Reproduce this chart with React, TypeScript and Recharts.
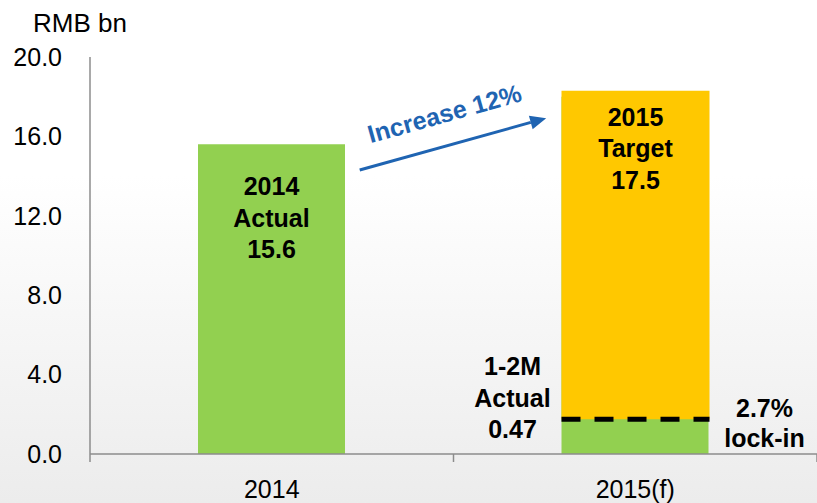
import React from 'react';
import { BarChart, Bar, XAxis, YAxis, LabelList, ReferenceLine, Label } from 'recharts';

const categories = ['2014', '2015(f)'];
const actualValues = [15.6, 18.0];
const targetRanges: ([number, number] | null)[] = [null, [1.75, 18.3]];
const yTicks = [0, 4, 8, 12, 16, 20];
const actualLabels = [['2014', 'Actual', '15.6'], []];
const targetLabels = [[], ['2015', 'Target', '17.5']];
const lockInLeft = ['1-2M', 'Actual', '0.47'];
const lockInRight = ['2.7%', 'lock-in'];
const increaseText = 'Increase 12%';
// arrow runs along the line joining these two points, from 24% to 75% of the way
const arrowFrom = { x: '2014', y: 13.07 };
const arrowTo = { x: '2015(f)', y: 18.17 };
const arrowSpan = [0.242, 0.755];

const FONT = '"Liberation Sans", Arial, sans-serif';
const GREEN = '#92d050';
const ORANGE = '#ffc800';
const BLUE = '#1f64b2';
const AXIS = '#8c8c8c';

const data = categories.map((c, i) => ({
  category: c,
  actual: actualValues[i],
  target: targetRanges[i],
}));

const boxOf = (p: any) => {
  const v = p.viewBox || {};
  return {
    x: p.x ?? v.x,
    y: p.y ?? v.y,
    width: p.width ?? v.width,
    height: p.height ?? v.height,
  };
};

const ActualLabel = (p: any) => {
  const lines = actualLabels[p.index] || [];
  if (!lines.length) return null;
  const b = boxOf(p);
  return (
    <g>
      {lines.map((t, i) => (
        <text key={i} x={b.x + b.width / 2} y={b.y + 51 + i * 31.5} textAnchor="middle"
          fontSize={25} fontWeight="bold" fill="#000" fontFamily={FONT}>{t}</text>
      ))}
    </g>
  );
};

// orange target bar, with the lock-in dashed line and its labels
const TargetShape = (p: any) => {
  const { x, y, width, height } = p;
  if (!height) return null;
  const idx = categories.indexOf(p.payload?.category ?? p.category);
  const bottom = y + height;
  const lines = targetLabels[idx] || [];
  return (
    <g>
      <rect x={x} y={y} width={width} height={height} fill={ORANGE} />
      <line x1={x} x2={x + width} y1={bottom} y2={bottom}
        stroke="#000" strokeWidth={5} strokeDasharray="19 14" />
      <g fontFamily={FONT} fontSize={25} fontWeight="bold" fill="#000">
        {lines.map((t, i) => (
          <text key={i} x={x + width / 2} y={y + 35 + i * 31.5} textAnchor="middle">{t}</text>
        ))}
        {lockInLeft.map((t, i) => (
          <text key={'l' + i} x={x - 49} y={bottom - 44 + i * 31.5} textAnchor="middle">{t}</text>
        ))}
        {lockInRight.map((t, i) => (
          <text key={'r' + i} x={x + width + 55} y={bottom - 2 + i * 30} textAnchor="middle">{t}</text>
        ))}
      </g>
    </g>
  );
};

const ArrowShape = (p: any) => {
  const sx = p.x1 + (p.x2 - p.x1) * arrowSpan[0];
  const sy = p.y1 + (p.y2 - p.y1) * arrowSpan[0];
  const ex = p.x1 + (p.x2 - p.x1) * arrowSpan[1];
  const ey = p.y1 + (p.y2 - p.y1) * arrowSpan[1];
  const ang = Math.atan2(ey - sy, ex - sx);
  const deg = (ang * 180) / Math.PI;
  const len = 16;
  const w = 7;
  const bx = ex - len * Math.cos(ang);
  const by = ey - len * Math.sin(ang);
  const nx = -Math.sin(ang);
  const ny = Math.cos(ang);
  const mx = (sx + ex) / 2 - 6;
  const my = (sy + ey) / 2 - 22;
  return (
    <g>
      <line x1={sx} y1={sy} x2={bx} y2={by} stroke={BLUE} strokeWidth={3} />
      <polygon points={`${ex},${ey} ${bx + nx * w},${by + ny * w} ${bx - nx * w},${by - ny * w}`} fill={BLUE} />
      <text x={mx} y={my} transform={`rotate(${deg} ${mx} ${my})`} textAnchor="middle"
        fontSize={25} fontWeight="bold" fill={BLUE} fontFamily={FONT}>{increaseText}</text>
    </g>
  );
};

const CategoryTick = (p: any) => {
  const { x, y, payload, index } = p;
  const off = payload.offset || 0;
  return (
    <g>
      <line x1={x - off} x2={x - off} y1={y - 8} y2={y} stroke={AXIS} strokeWidth={1.5} />
      {index === categories.length - 1 && (
        <line x1={x + off} x2={x + off} y1={y - 8} y2={y} stroke={AXIS} strokeWidth={1.5} />
      )}
      <text x={x} y={y + 36} textAnchor="middle" fontSize={25} fill="#000" fontFamily={FONT}>
        {payload.value}
      </text>
    </g>
  );
};

export default function App() {
  return (
    <div
      style={{
        position: 'absolute',
        left: 0,
        top: 0,
        width: 817,
        height: 503,
        background: 'linear-gradient(to bottom, #ffffff 35%, #ececec 100%)',
      }}
    >
      <BarChart width={817} height={503} data={data} margin={{ top: 57, right: 0, bottom: 0, left: 0 }}>
        <XAxis xAxisId="a" dataKey="category" height={49} tickSize={8} tickMargin={0}
          tickLine={false} stroke={AXIS} axisLine={{ stroke: AXIS, strokeWidth: 1.5 }}
          tick={<CategoryTick />} interval={0} />
        <XAxis xAxisId="b" dataKey="category" hide />
        <YAxis domain={[0, 20]} ticks={yTicks} width={90} tickLine={false} tickSize={6} tickMargin={22}
          axisLine={{ stroke: AXIS, strokeWidth: 1.5 }} interval={0}
          tickFormatter={(v: number) => v.toFixed(1)}
          tick={{ fontSize: 25, fill: '#000', fontFamily: FONT }}>
          <Label
            content={(p: any) => (
              <text x={33} y={(p.viewBox?.y ?? 57) - 25} fontSize={26} fill="#000" fontFamily={FONT}>
                RMB bn
              </text>
            )}
          />
        </YAxis>
        <Bar xAxisId="a" dataKey="actual" fill={GREEN} barSize={147} isAnimationActive={false}>
          <LabelList dataKey="actual" content={<ActualLabel />} />
        </Bar>
        <Bar xAxisId="b" dataKey="target" fill={ORANGE} barSize={148} shape={<TargetShape />}
          isAnimationActive={false} />
        <ReferenceLine xAxisId="a" segment={[arrowFrom, arrowTo]} shape={<ArrowShape />} ifOverflow="visible" />
      </BarChart>
    </div>
  );
}
